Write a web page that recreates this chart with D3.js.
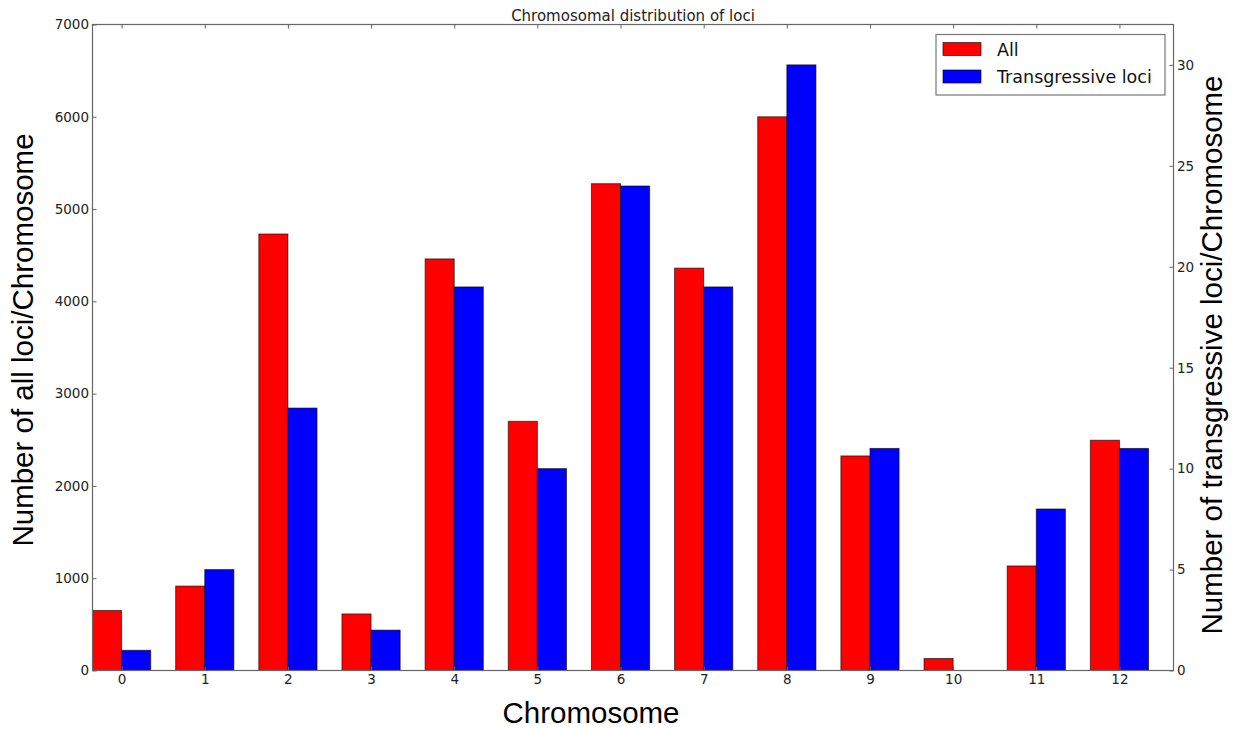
<!DOCTYPE html>
<html>
<head>
<meta charset="utf-8">
<script src="https://cdn.jsdelivr.net/npm/d3@7"></script>
<style>
  html, body { margin: 0; padding: 0; background: #fff; }
  svg { display: block; }
</style>
</head>
<body>
<svg id="chart" width="1239" height="729"></svg>
<script>
// Chromosome indices and loci counts
const chromosomes = [0, 1, 2, 3, 4, 5, 6, 7, 8, 9, 10, 11, 12];
const allLoci = [650, 915, 4730, 613, 4460, 2700, 5275, 4360, 6000, 2325, 130, 1133, 2495];
const transgressiveLoci = [1, 5, 13, 2, 19, 10, 24, 19, 30, 11, 0, 8, 11];
const leftTicks = [0, 1000, 2000, 3000, 4000, 5000, 6000, 7000];
const rightTicks = [0, 5, 10, 15, 20, 25, 30];
const seriesNames = ["All", "Transgressive loci"];
const seriesColors = ["#ff0000", "#0000ff"];

const svg = d3.select("#chart");
const plotLeft = 92.5, plotRight = 1173.5, plotTop = 24.5, plotBottom = 670.5;
const barW = 0.35;

const x = d3.scaleLinear().domain([0, 13]).range([plotLeft, plotRight]);
const yL = d3.scaleLinear().domain([0, 7000]).range([plotBottom, plotTop]);
const yR = d3.scaleLinear().domain([0, 32]).range([plotBottom, plotTop]);

const tickFont = "'DejaVu Sans', sans-serif";
const labelFont = "'Liberation Sans', Arial, sans-serif";

// Bars: All (left axis)
svg.append("g").selectAll("rect").data(chromosomes).join("rect")
  .attr("x", d => x(d))
  .attr("y", (d, i) => yL(allLoci[i]))
  .attr("width", x(barW) - x(0))
  .attr("height", (d, i) => yL(0) - yL(allLoci[i]))
  .attr("fill", seriesColors[0])
  .attr("stroke", "#000").attr("stroke-opacity", 0.6).attr("stroke-width", 1);

// Bars: Transgressive loci (right axis)
svg.append("g").selectAll("rect").data(chromosomes).join("rect")
  .attr("x", d => x(d + barW))
  .attr("y", (d, i) => yR(transgressiveLoci[i]))
  .attr("width", x(barW) - x(0))
  .attr("height", (d, i) => yR(0) - yR(transgressiveLoci[i]))
  .attr("fill", seriesColors[1])
  .attr("stroke", "#000").attr("stroke-opacity", 0.6).attr("stroke-width", 1);

// Frame
svg.append("rect")
  .attr("x", plotLeft).attr("y", plotTop)
  .attr("width", plotRight - plotLeft).attr("height", plotBottom - plotTop)
  .attr("fill", "none").attr("stroke", "#666").attr("stroke-width", 1.2);

// Axes with inward ticks
function styleAxis(g) {
  g.select(".domain").remove();
  g.selectAll(".tick line").attr("stroke", "#666");
  g.selectAll(".tick text").attr("fill", "#222")
    .style("font-family", tickFont).style("font-size", "13.5px");
}

const xTickVals = chromosomes.map(d => d + barW);
svg.append("g").attr("transform", `translate(0,${plotBottom})`)
  .call(d3.axisBottom(x).tickValues(xTickVals).tickFormat((d, i) => chromosomes[i])
        .tickSizeInner(-4).tickSizeOuter(0).tickPadding(4))
  .call(styleAxis);
svg.append("g").attr("transform", `translate(0,${plotTop})`)
  .call(d3.axisTop(x).tickValues(xTickVals).tickFormat("").tickSizeInner(-4).tickSizeOuter(0))
  .call(styleAxis);

svg.append("g").attr("transform", `translate(${plotLeft},0)`)
  .call(d3.axisLeft(yL).tickValues(leftTicks).tickFormat(d3.format("d"))
        .tickSizeInner(-4).tickSizeOuter(0).tickPadding(3.5))
  .call(styleAxis);

svg.append("g").attr("transform", `translate(${plotRight},0)`)
  .call(d3.axisRight(yR).tickValues(rightTicks).tickFormat(d3.format("d"))
        .tickSizeInner(-4).tickSizeOuter(0).tickPadding(3.5))
  .call(styleAxis);

// Title
svg.append("text")
  .attr("x", (plotLeft + plotRight) / 2).attr("y", 21)
  .attr("text-anchor", "middle")
  .style("font-family", tickFont).style("font-size", "15px").attr("fill", "#222")
  .text("Chromosomal distribution of loci");

// Axis labels
svg.append("text")
  .attr("x", 591).attr("y", 722.5)
  .attr("text-anchor", "middle")
  .style("font-family", labelFont).style("font-size", "29.5px").attr("fill", "#000")
  .text("Chromosome");

svg.append("text")
  .attr("transform", "translate(33,340) rotate(-90)")
  .attr("text-anchor", "middle")
  .style("font-family", labelFont).style("font-size", "29.5px").attr("fill", "#000")
  .text("Number of all loci/Chromosome");

svg.append("text")
  .attr("transform", "translate(1221.5,355) rotate(-90)")
  .attr("text-anchor", "middle")
  .style("font-family", labelFont).style("font-size", "29.5px").attr("fill", "#000")
  .text("Number of transgressive loci/Chromosome");

// Legend
const legend = svg.append("g");
legend.append("rect")
  .attr("x", 936).attr("y", 34.5).attr("width", 229).attr("height", 60.5)
  .attr("fill", "#fff").attr("stroke", "#777").attr("stroke-width", 1.2);
seriesNames.forEach((name, i) => {
  legend.append("rect")
    .attr("x", 943).attr("y", 42.5 + i * 27.5).attr("width", 38).attr("height", 13)
    .attr("fill", seriesColors[i]).attr("stroke", "#000").attr("stroke-opacity", 0.6);
  legend.append("text")
    .attr("x", 997).attr("y", 55.5 + i * 27.5)
    .style("font-family", tickFont).style("font-size", "17.5px").attr("fill", "#111")
    .text(name);
});
</script>
</body>
</html>
